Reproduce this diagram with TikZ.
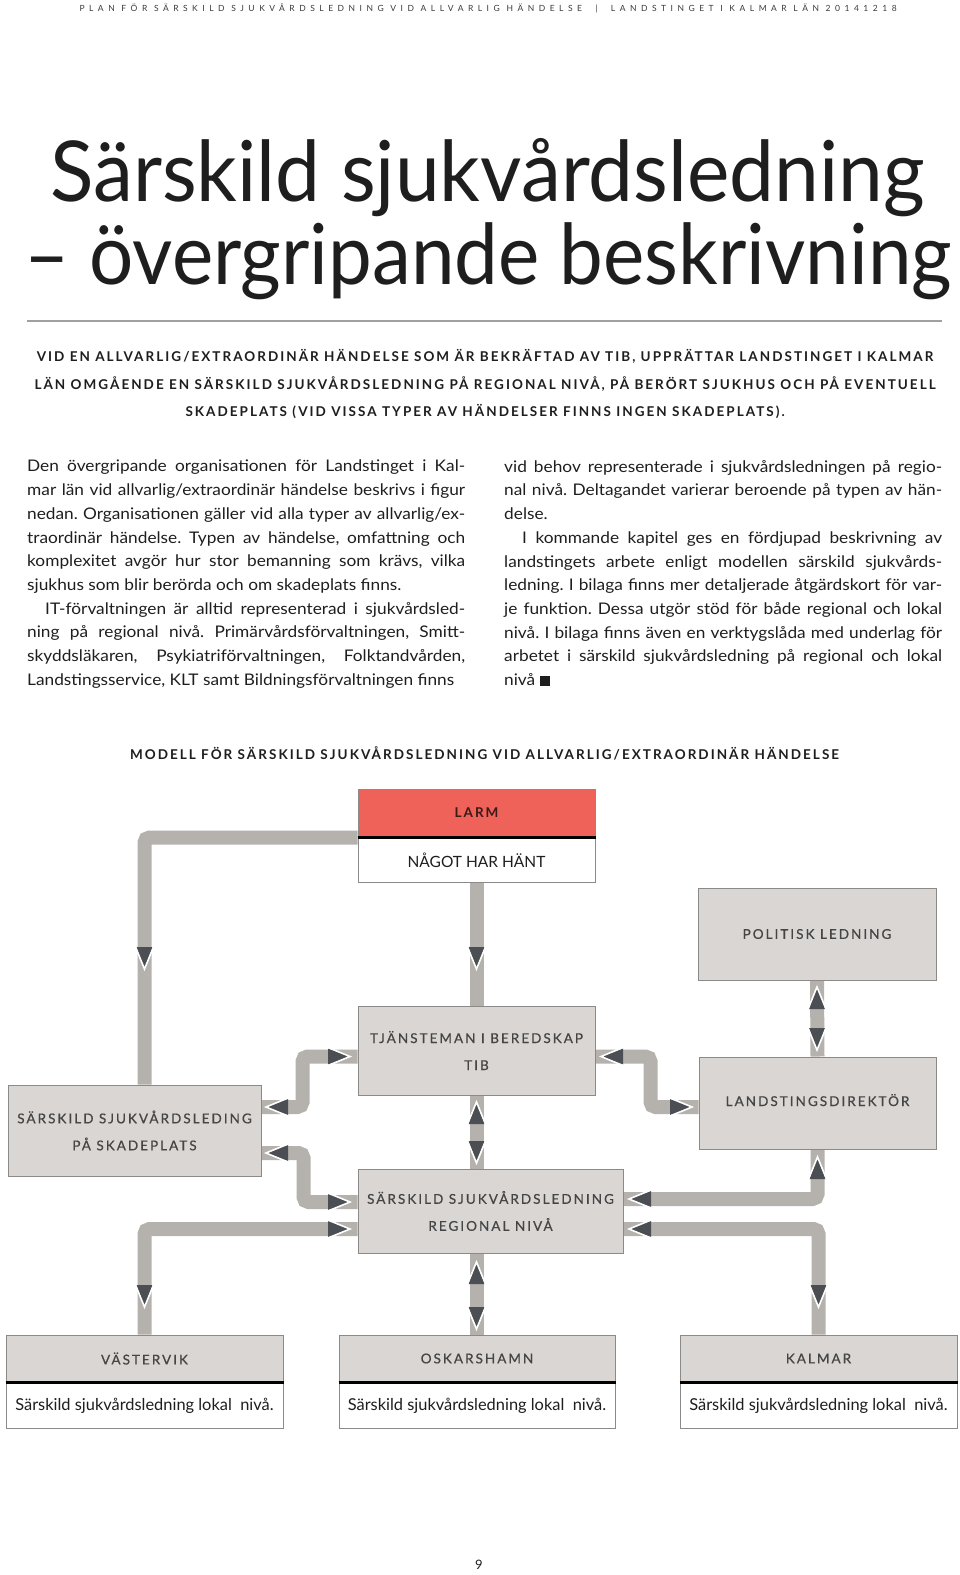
\documentclass[tikz,border=0pt]{standalone}
\usepackage{fontspec}
\setmainfont{Lato}
\newfontfamily\spacedfont[LetterSpace=15]{Lato}
\newfontfamily\boxfont[LetterSpace=15, FakeBold=0.5]{Lato}
\newfontfamily\headfont[LetterSpace=53]{Lato}
\newfontfamily\titlefont[FakeStretch=0.93]{Lato}
\newfontfamily\titlefontwide[FakeStretch=0.955]{Lato}
\newfontfamily\bodyfont[FakeStretch=1.08]{Lato}
\usetikzlibrary{positioning}

\definecolor{larmred}{HTML}{EF6259}
\definecolor{larmtext}{HTML}{3B1A17}
\definecolor{boxfill}{HTML}{D9D6D4}
\definecolor{boxline}{HTML}{8C8A89}
\definecolor{bandgray}{HTML}{B5B1AD}
\definecolor{tipdark}{HTML}{4B4E52}
\definecolor{boxtext}{HTML}{454545}
\definecolor{inktext}{HTML}{1E1E1E}
\definecolor{headtext}{HTML}{3A3A3A}
\definecolor{rulegray}{HTML}{A0A0A0}

\pgfdeclarelayer{bg}
\pgfsetlayers{bg,main}

% arrow head: tip point, direction
\newcommand{\tipat}[2]{%
  \begin{scope}[shift={(#1)}, rotate=#2]
    \fill[tipdark] (0,0) -- (-22,8) -- (-22,-8) -- cycle;
    \draw[white, line width=1.6pt] (-22,9) -- (0,0) -- (-22,-9);
  \end{scope}}
\newcommand{\bodyset}{\tolerance=9999\relax\pretolerance=-1\relax\hyphenpenalty=10000\relax\frenchspacing}

\begin{document}
\begin{tikzpicture}[
  x=1pt, y=-1pt,
  blk/.style={rectangle, draw=boxline, fill=boxfill, line width=1pt, align=center, inner sep=0pt,
    text=boxtext, font=\boxfont\fontsize{13.5}{27}\selectfont},
  lowblk/.style={rectangle, draw=boxline, fill=white, line width=1pt, inner sep=0pt,
    text=inktext, font=\fontsize{16.4}{19}\selectfont},
  band/.style={draw=bandgray, line width=14pt, rounded corners=5pt},
  caps/.style={inner sep=0pt, text=inktext, font=\spacedfont\bfseries\fontsize{13.5}{16}\selectfont},
  bodytext/.style={anchor=north west, inner sep=0pt, text width=438pt, align=justify, text=inktext,
    font=\bodyfont\fontsize{16}{23.7}\selectfont}
]
\useasboundingbox (0,0) rectangle (960,1575);

% page head and title
\node[text=headtext, font=\headfont\fontsize{8.5}{10}\selectfont] (head) at (488,8)
  {PLAN FÖR SÄRSKILD SJUKVÅRDSLEDNING VID ALLVARLIG HÄNDELSE \ | \ LANDSTINGET I KALMAR LÄN 20141218};
\node[anchor=base west, inner sep=0pt, text=inktext, font=\titlefontwide\fontsize{84}{90}\selectfont] (title1) at (50,201)
  {Särskild sjukvårdsledning};
\node[anchor=base west, inner sep=0pt, text=inktext, font=\titlefont\fontsize{84}{90}\selectfont] (title2) at (24,284)
  {– övergripande beskrivning};
\draw[rulegray, line width=1.2pt] (27,321) -- (942,321);

\node[caps] (lead1) at (485,356) {VID EN ALLVARLIG/EXTRAORDINÄR HÄNDELSE SOM ÄR BEKRÄFTAD AV TIB, UPPRÄTTAR LANDSTINGET I KALMAR};
\node[caps] (lead2) at (485,384) {LÄN OMGÅENDE EN SÄRSKILD SJUKVÅRDSLEDNING PÅ REGIONAL NIVÅ, PÅ BERÖRT SJUKHUS OCH PÅ EVENTUELL};
\node[caps] (lead3) at (485,411) {SKADEPLATS (VID VISSA TYPER AV HÄNDELSER FINNS INGEN SKADEPLATS).};

% two columns
\node[bodytext] (colL) at (27,460) {\bodyset Den övergripande organisationen för Landstinget i Kal-\linebreak
mar län vid allvarlig/extraordinär händelse beskrivs i figur\linebreak
nedan. Organisationen gäller vid alla typer av allvarlig/ex-\linebreak
traordinär händelse. Typen av händelse, omfattning och\linebreak
komplexitet avgör hur stor bemanning som krävs, vilka\linebreak
sjukhus som blir berörda och om skadeplats finns.\par
\hspace*{18pt}IT-förvaltningen är alltid representerad i sjukvårdsled-\linebreak
ning på regional nivå. Primärvårdsförvaltningen, Smitt-\linebreak
skyddsläkaren, Psykiatriförvaltningen, Folktandvården,\linebreak
Landstingsservice, KLT samt Bildningsförvaltningen finns\parfillskip=0pt\relax};
\node[bodytext] (colR) at (504,460) {\bodyset vid behov representerade i sjukvårdsledningen på regio-\linebreak
nal nivå. Deltagandet varierar beroende på typen av hän-\linebreak
delse.\par
\hspace*{18pt}I kommande kapitel ges en fördjupad beskrivning av\linebreak
landstingets arbete enligt modellen särskild sjukvårds-\linebreak
ledning. I bilaga finns mer detaljerade åtgärdskort för var-\linebreak
je funktion. Dessa utgör stöd för både regional och lokal\linebreak
nivå. I bilaga finns även en verktygslåda med underlag för\linebreak
arbetet i särskild sjukvårdsledning på regional och lokal\linebreak
nivå \rule{10pt}{10pt}};

% model
\node[caps, font=\spacedfont\bfseries\fontsize{13.5}{16}\selectfont] (mtitle) at (484.5,753)
  {MODELL FÖR SÄRSKILD SJUKVÅRDSLEDNING VID ALLVARLIG/EXTRAORDINÄR HÄNDELSE};

\node[blk, fill=larmred, text=larmtext, font=\spacedfont\bfseries\fontsize{13.5}{16}\selectfont,
  minimum width=237pt, minimum height=48pt] (larm) at (476.5,813) {LARM};
\node[lowblk, minimum width=237pt, minimum height=44pt, below=0pt of larm, font=\fontsize{15.5}{18}\selectfont] (hant) {NÅGOT HAR HÄNT};
\node[blk, minimum width=238pt, minimum height=92pt] (pol) at (817,934) {POLITISK LEDNING};
\node[blk, minimum width=237pt, minimum height=89pt] (tib) at (476.5,1050.5) {TJÄNSTEMAN I BEREDSKAP\\TIB};
\node[blk, minimum width=237pt, minimum height=92pt] (ld) at (817.5,1103) {\raisebox{6pt}{LANDSTINGSDIREKTÖR}};
\node[blk, minimum width=253pt, minimum height=91pt] (skade) at (134.5,1130.5) {SÄRSKILD SJUKVÅRDSLEDING\\PÅ SKADEPLATS};
\node[blk, minimum width=265pt, minimum height=84pt] (reg) at (490.5,1211) {SÄRSKILD SJUKVÅRDSLEDNING\\REGIONAL NIVÅ};

\node[blk, minimum width=277pt, minimum height=47pt] (vast) at (144.5,1358.5) {VÄSTERVIK};
\node[blk, minimum width=276pt, minimum height=47pt] (osk) at (477,1358.5) {OSKARSHAMN};
\node[blk, minimum width=277pt, minimum height=47pt] (kalm) at (818.5,1358.5) {KALMAR};
\node[lowblk, minimum width=277pt, minimum height=45pt, below=0pt of vast] (vastlok) {Särskild sjukvårdsledning lokal \ nivå.};
\node[lowblk, minimum width=276pt, minimum height=45pt, below=0pt of osk] (osklok) {Särskild sjukvårdsledning lokal \ nivå.};
\node[lowblk, minimum width=277pt, minimum height=45pt, below=0pt of kalm] (kalmlok) {Särskild sjukvårdsledning lokal \ nivå.};

\draw[line width=2.5pt] (larm.south west) -- (larm.south east);
\draw[line width=2.5pt] (vast.south west) -- (vast.south east);
\draw[line width=2.5pt] (osk.south west) -- (osk.south east);
\draw[line width=2.5pt] (kalm.south west) -- (kalm.south east);

\begin{pgfonlayer}{bg}
  \draw[band] (larm.south west) -| (skade.north -| vast.north);
  \draw[band] (hant.south) -- (tib.north);
  \draw[band] ([yshift=-6pt]tib.west) -- ++(-55,0) |- ([yshift=23.5pt]skade.east);
  \draw[band] ([yshift=-22.5pt]skade.east) -- ++(42,0) |- ([yshift=9pt]reg.west);
  \draw[band] ([yshift=-18pt]reg.west) -| (vast.north);
  \draw[band] ([yshift=-18pt]reg.east) -| (kalm.north);
  \draw[band] ([yshift=12pt]reg.east) -| (ld.south);
  \draw[band] ([yshift=-6pt]tib.east) -- ++(55,0) |- ([yshift=-4pt]ld.west);
  \draw[band] (pol.south) -- (ld.north);
  \draw[band] (tib.south) -- (tib.south |- reg.north);
  \draw[band] (tib.south |- reg.south) -- (tib.south |- osk.north);
\end{pgfonlayer}

\tipat{144.5,969}{-90}
\tipat{476.5,969}{-90}
\tipat{350,1056.5}{0}
\tipat{266,1107}{180}
\tipat{266,1153}{180}
\tipat{350,1202}{0}
\tipat{350,1229}{0}
\tipat{629,1199}{180}
\tipat{629,1229}{180}
\tipat{817.5,1157}{90}
\tipat{144.5,1307}{-90}
\tipat{818.5,1307}{-90}
\tipat{601,1056.5}{180}
\tipat{692,1107}{0}
\tipat{817,987}{90}
\tipat{817,1050}{-90}
\tipat{476.5,1102}{90}
\tipat{476.5,1163}{-90}
\tipat{476.5,1262}{90}
\tipat{476.5,1329}{-90}

\node[text=inktext, font=\fontsize{13}{15}\selectfont] (pageno) at (479,1565) {9};
\end{tikzpicture}
\end{document}
